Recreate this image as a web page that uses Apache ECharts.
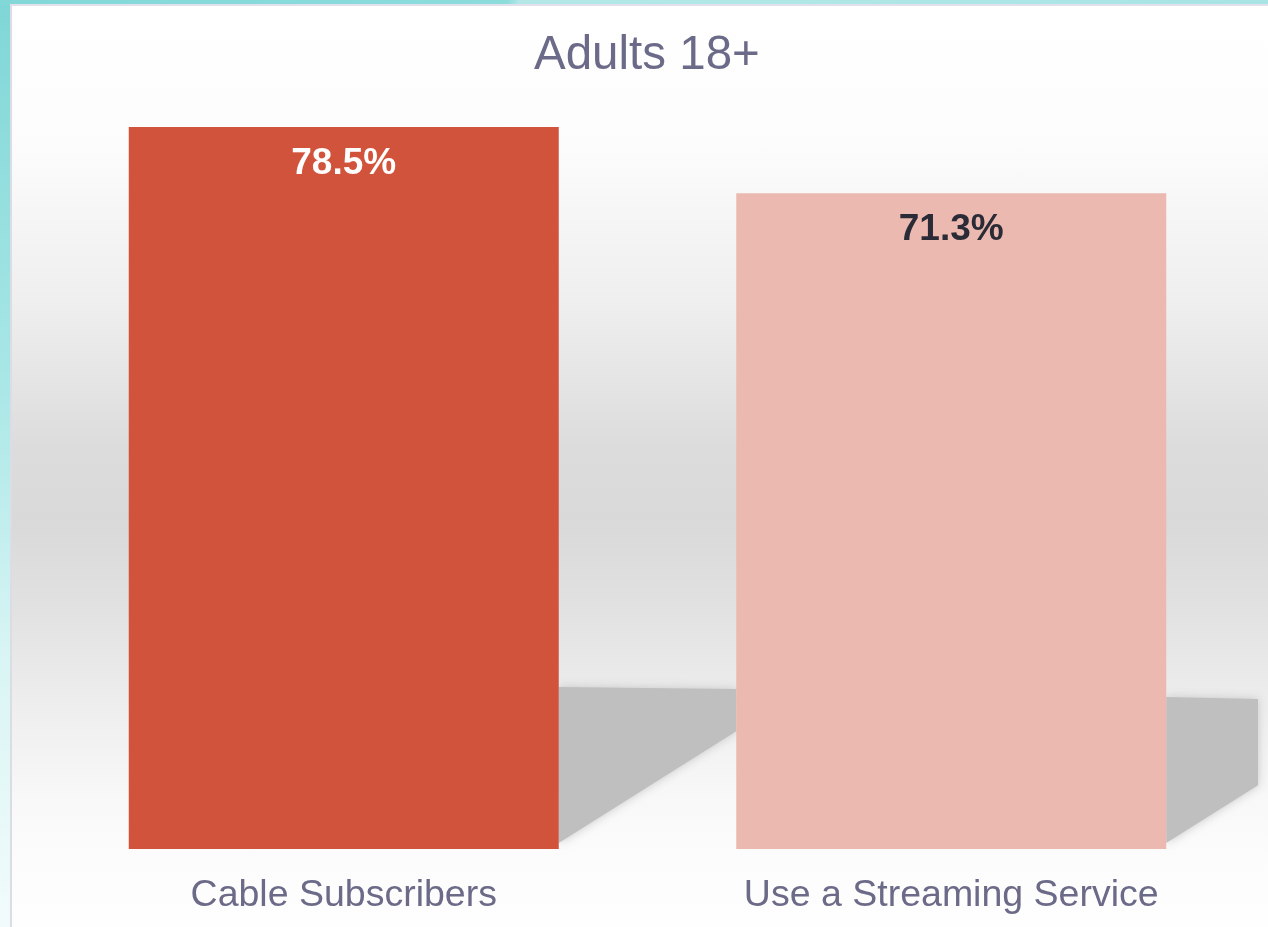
<!DOCTYPE html>
<html>
<head>
<meta charset="utf-8">
<script src="https://cdn.jsdelivr.net/npm/echarts@6/dist/echarts.min.js"></script>
<style>
  html, body { margin: 0; padding: 0; width: 1268px; height: 927px; overflow: hidden; }
  body { background: linear-gradient(180deg, #7fd6d6 0%, #a8e6e6 40%, #d8f4f4 70%, #f2fbfb 100%); position: relative; }
  #topstrip { position: absolute; left: 0; top: 0; width: 1268px; height: 5px; background: linear-gradient(90deg, #82d8d8 0%, #8cdcdc 40%, #b4e8e8 41%, #a8e4e4 100%); }
  #panel { position: absolute; left: 10px; top: 4px; width: 1258px; height: 923px; box-sizing: border-box;
    border-left: 2px solid #dcdce4; border-top: 2px solid #e2e0ea;
    background: linear-gradient(180deg, #ffffff 0%, #fcfcfc 15%, #eeeeee 33%, #dcdcdc 48%, #d9d9d9 56%, #e2e2e2 66%, #eeeeee 76%, #f8f8f8 86%, #fcfcfc 93%, #fefefe 100%); }
  #chart { position: absolute; left: 0; top: 0; width: 1268px; height: 927px; }
</style>
</head>
<body>
<div id="topstrip"></div>
<div id="panel"></div>
<div id="chart"></div>
<script>
const titleText = 'Adults 18+';
const categories = ['Cable Subscribers', 'Use a Streaming Service'];
const values = [78.5, 71.3];
const barColors = ['#d2533b', '#ecb9b0'];
const labelColors = ['#ffffff', '#2a2b36'];

const chart = echarts.init(document.getElementById('chart'), null, { renderer: 'canvas' });
const FONT = '"Liberation Sans", Arial, sans-serif';

const option = {
  backgroundColor: 'transparent',
  animation: false,
  title: {
    text: titleText,
    left: 534, top: 32, padding: 0,
    textStyle: { fontFamily: FONT, fontSize: 47.5, fontWeight: 'normal', color: '#6b6a88' }
  },
  grid: { left: 40, right: 13, top: 127, bottom: 78 },
  xAxis: {
    type: 'category',
    data: categories,
    axisLine: { show: false },
    axisTick: { show: false },
    splitLine: { show: false },
    axisLabel: { fontFamily: FONT, fontSize: 37.5, color: '#6b6a88', margin: 28 }
  },
  yAxis: {
    type: 'value', min: 0, max: 'dataMax', show: false,
    splitLine: { show: false }
  },
  series: [{
    type: 'bar',
    barWidth: 430,
    z: 5,
    data: values.map((v, i) => ({
      value: v,
      itemStyle: { color: barColors[i] },
      label: { color: labelColors[i] }
    })),
    label: {
      show: true,
      position: 'insideTop',
      distance: 18,
      fontFamily: FONT,
      fontSize: 37,
      fontWeight: 'bold',
      formatter: p => p.value.toFixed(1) + '%'
    }
  }]
};
chart.setOption(option);

// decorative cast shadows behind the bars, placed relative to the axis
const halfW = 215;
const panelRight = 1258;
const shadows = [];
for (let i = 0; i < values.length; i++) {
  const base = chart.convertToPixel({ seriesIndex: 0 }, [i, 0]);
  const xr = base[0] + halfW;
  let W;
  if (i < values.length - 1) {
    const nxt = chart.convertToPixel({ seriesIndex: 0 }, [i + 1, 0]);
    W = (nxt[0] - halfW) - xr;
  } else {
    W = panelRight - xr;
  }
  const by = base[1] - 6;
  const topL = base[1] - 162 + i * 10;
  const topR = topL + 2;
  shadows.push({
    type: 'polygon',
    z: 1,
    silent: true,
    shape: { points: [[xr, by], [xr, topL], [xr + W, topR], [xr + W, by - 0.63 * W]] },
    style: { fill: '#bfbfbf', shadowBlur: 10, shadowColor: 'rgba(195,195,195,0.9)' }
  });
}
chart.setOption({ graphic: shadows });
</script>
</body>
</html>
